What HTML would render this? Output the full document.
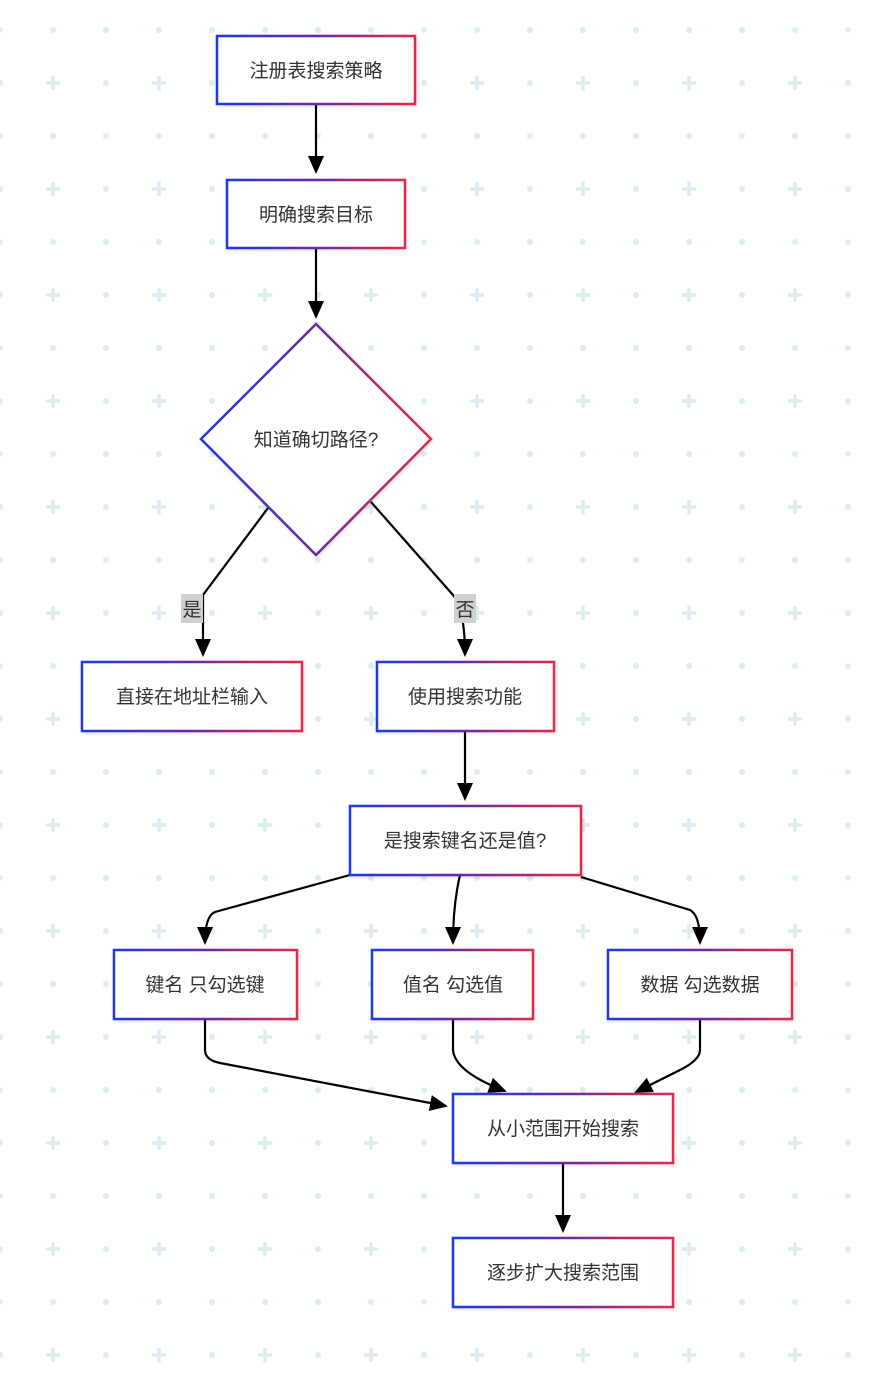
<!DOCTYPE html>
<html><head><meta charset="utf-8"><style>
html,body{margin:0;padding:0;background:#fff;}
svg{display:block;}
text{font-family:"Liberation Sans","Noto Sans CJK SC",sans-serif;font-size:19px;fill:#333;}
</style></head><body>
<svg width="886" height="1374" viewBox="0 0 886 1374" xmlns="http://www.w3.org/2000/svg">
<defs>
<pattern id="bg" x="0" y="30" width="106" height="106" patternUnits="userSpaceOnUse">
<circle cx="0" cy="0" r="3" fill="#dcecef"/><circle cx="53" cy="0" r="3" fill="#dcecef"/><circle cx="106" cy="0" r="3" fill="#dcecef"/>
<circle cx="0" cy="106" r="3" fill="#dcecef"/><circle cx="53" cy="106" r="3" fill="#dcecef"/><circle cx="106" cy="106" r="3" fill="#dcecef"/>
<circle cx="0" cy="53" r="3" fill="#dcecef"/><circle cx="106" cy="53" r="3" fill="#dcecef"/>
<path d="M53 46v14M46 53h14" stroke="#dcecef" stroke-width="3.5"/>
</pattern>
<linearGradient id="g" x1="0" y1="0" x2="1" y2="0"><stop offset="0" stop-color="#1d3ae6"/><stop offset="0.5" stop-color="#6a2aa0"/><stop offset="1" stop-color="#e3294a"/></linearGradient>
<marker id="a" markerWidth="10" markerHeight="10" refX="5" refY="9" orient="auto" markerUnits="userSpaceOnUse" viewBox="0 0 10 10"><path d="M0 0L10 0L5 10z" fill="#000" transform="rotate(0)"/></marker>
<marker id="ar" markerWidth="18" markerHeight="16" refX="16" refY="8" orient="auto" markerUnits="userSpaceOnUse"><path d="M0 0L18 8L0 16z" fill="#000"/></marker>
<filter id="sh"><feDropShadow dx="1" dy="1" stdDeviation="1.5" flood-opacity="0.15"/></filter>
</defs>
<rect width="886" height="1374" fill="#fff"/>
<rect width="886" height="1374" fill="url(#bg)"/>
<g fill="none" stroke="#000" stroke-width="2.2" marker-end="url(#ar)">
<path d="M316 104V172"/>
<path d="M316 248V317"/>
<path d="M268 508L203 595V655"/>
<path d="M371 502L453 595Q465 610 465 655"/>
<path d="M465 731V799"/>
<path d="M350 875L215 912Q205 916 205 943"/>
<path d="M460 875Q453 905 453 943"/>
<path d="M581 877L690 910Q700 915 700 943"/>
<path d="M205 1019V1050Q205 1060 220 1063L446 1106"/>
<path d="M453 1019V1050Q455 1072 505 1091"/>
<path d="M700 1019V1050Q700 1060 680 1070L636 1092"/>
<path d="M563 1163V1231"/>
</g>
<rect x="181" y="594" width="22" height="29" fill="#d0d0d0"/><text x="192" y="616" text-anchor="middle">是</text>
<rect x="454" y="594" width="22" height="29" fill="#d0d0d0"/><text x="465" y="616" text-anchor="middle">否</text>
<g fill="#fff" stroke="url(#g)" stroke-width="2.5" filter="url(#sh)">
<rect x="217" y="36" width="198" height="68"/>
<rect x="227" y="180" width="178" height="68"/>
<path d="M316 324L431 439L316 555L201 439Z"/>
<rect x="82" y="662" width="220" height="69"/>
<rect x="377" y="662" width="177" height="69"/>
<rect x="350" y="806" width="231" height="69"/>
<rect x="114" y="950" width="183" height="69"/>
<rect x="372" y="950" width="161" height="69"/>
<rect x="608" y="950" width="184" height="69"/>
<rect x="453" y="1094" width="220" height="69"/>
<rect x="453" y="1238" width="220" height="69"/>
</g>
<g text-anchor="middle">
<text x="316" y="77">注册表搜索策略</text>
<text x="316" y="221">明确搜索目标</text>
<text x="316" y="446">知道确切路径?</text>
<text x="192" y="703">直接在地址栏输入</text>
<text x="465" y="703">使用搜索功能</text>
<text x="465" y="847">是搜索键名还是值?</text>
<text x="205" y="991">键名 只勾选键</text>
<text x="453" y="991">值名 勾选值</text>
<text x="700" y="991">数据 勾选数据</text>
<text x="563" y="1135">从小范围开始搜索</text>
<text x="563" y="1279">逐步扩大搜索范围</text>
</g>
</svg>
</body></html>
